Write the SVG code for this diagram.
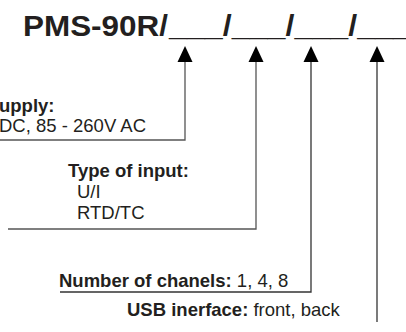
<svg xmlns="http://www.w3.org/2000/svg" width="406" height="332" viewBox="0 0 406 332">
<defs>
<style>
.t{font-family:"Liberation Sans",Arial,sans-serif;font-size:18.5px;fill:#231f20}
.b{font-weight:bold}
.title{font-family:"Liberation Sans",Arial,sans-serif;font-size:29.5px;font-weight:bold;fill:#231f20}
.ln{fill:none;stroke:#555;stroke-width:1.3}
.ah{fill:#000}
</style>
</defs>
<rect width="406" height="332" fill="#fff"/>
<g id="title">
<text class="title" x="23" y="36" textLength="145" lengthAdjust="spacingAndGlyphs">PMS-90R/</text>
<text class="title" x="169" y="36" textLength="242" lengthAdjust="spacingAndGlyphs">___/___/___/___</text>
</g>
<g id="connectors">
<polyline class="ln" points="185,60 185,140 0,140"/>
<polyline class="ln" points="256,60 256,229 8,229"/>
<polyline class="ln" points="311,60 311,292 60,292" style="stroke:#333"/>
<polyline class="ln" points="377,60 377,322" style="stroke:#333"/>
<polygon class="ah" points="185,46 177.5,62 192.5,62"/>
<polygon class="ah" points="256,46 248.5,62 263.5,62"/>
<polygon class="ah" points="311,46 303.5,62 318.5,62"/>
<polygon class="ah" points="377,46 369.5,62 384.5,62"/>
</g>
<g id="supply">
<text class="t b" x="-1" y="112">upply:</text>
<text class="t" x="-1" y="132">DC, 85 - 260V AC</text>
</g>
<g id="input">
<text class="t b" x="68" y="177">Type of input:</text>
<text class="t" x="77" y="198">U/I</text>
<text class="t" x="77" y="219">RTD/TC</text>
</g>
<g id="channels">
<text class="t" x="59" y="287"><tspan class="b">Number of chanels:</tspan> 1, 4, 8</text>
</g>
<g id="usb">
<text class="t" x="127" y="316"><tspan class="b">USB inerface:</tspan> front, back</text>
</g>
</svg>
